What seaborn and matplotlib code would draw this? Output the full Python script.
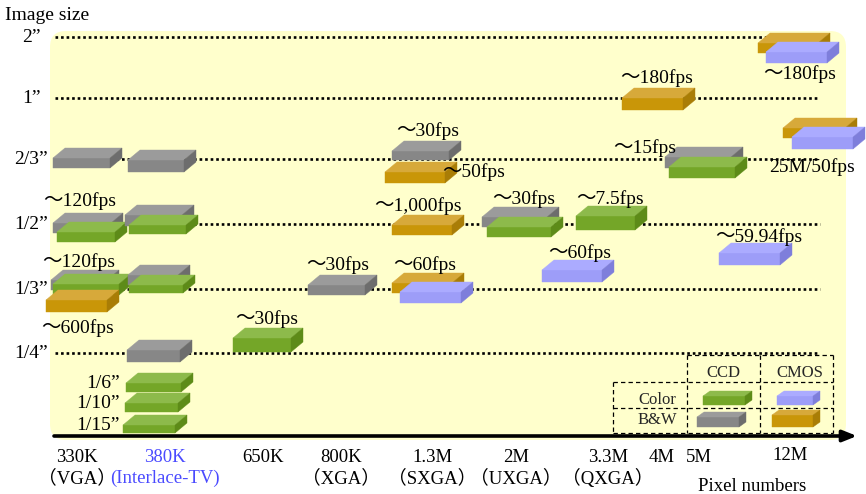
import matplotlib
matplotlib.use("Agg")
import matplotlib.pyplot as plt
from matplotlib.patches import Polygon, FancyBboxPatch
import seaborn as sns

# ---------------------------------------------------------------------------
# Data
# ---------------------------------------------------------------------------
# Pixel-count classes along the horizontal axis
resolutions = ["330K", "380K", "650K", "800K", "1.3M", "2M", "3.3M", "4M", "5M", "12M"]
formats = ["（VGA）", "(Interlace-TV)", "", "（XGA）", "（SXGA）", "（UXGA）", "（QXGA）", "", "", ""]

# Optical formats along the vertical axis
sizes = ["2”", "1”", "2/3”", "1/2”", "1/3”", "1/4”"]
small_sizes = ["1/6”", "1/10”", "1/15”"]

# Sensor line-up (drawn back to front): device, colour mode, frame-rate note
sensor_type = ["CCD", "CCD", "CCD", "CCD", "CCD", "CCD", "CCD", "CCD", "CMOS",
               "CCD", "CCD", "CCD", "CCD", "CCD", "CCD", "CCD", "CCD", "CCD",
               "CMOS", "CMOS", "CMOS", "CMOS", "CCD", "CCD", "CCD", "CMOS",
               "CMOS", "CCD", "CCD", "CMOS", "CMOS", "CMOS", "CMOS", "CMOS"]
sensor_mode = ["B&W", "B&W", "B&W", "Color", "B&W", "Color", "B&W", "Color", "B&W",
               "B&W", "Color", "B&W", "Color", "Color", "Color", "Color", "B&W", "B&W",
               "B&W", "B&W", "B&W", "Color", "B&W", "Color", "Color", "Color",
               "B&W", "B&W", "Color", "Color", "B&W", "Color", "B&W", "Color"]
sensor_fps = ["", "", "", "～120fps", "", "", "", "～120fps", "～600fps",
              "", "", "", "", "", "", "～30fps", "～30fps", "～30fps",
              "～50fps", "～1,000fps", "", "～60fps", "", "～30fps", "～7.5fps", "～60fps",
              "～180fps", "", "～15fps", "～59.94fps", "", "～180fps", "", "25M/50fps"]

# ---------------------------------------------------------------------------
# Layout (canvas units = pixels, y grows downward)
# ---------------------------------------------------------------------------
W, H = 866, 494
res_x = [77, 165, 263, 341, 432, 516, 608, 662, 699, 790]
size_y = [37, 98, 159, 224, 289, 353]
small_y = [383, 403, 425]
line_end = [800, 818, 818, 820, 820, 818]

# slab bounding boxes: left, top, width, height
block_box = [(53, 148, 69, 20), (128, 150, 68, 22), (53, 213, 70, 20), (57, 222, 70, 20),
             (125, 205, 69, 21), (129, 215, 69, 19), (51, 270, 68, 20), (53, 274, 78, 21),
             (46, 290, 73, 22), (128, 265, 62, 20), (129, 275, 66, 18), (127, 340, 65, 22),
             (126, 373, 67, 19), (125, 393, 65, 19), (123, 415, 64, 18), (233, 328, 70, 24),
             (308, 275, 69, 20), (392, 141, 69, 19), (385, 162, 72, 21), (392, 215, 72, 20),
             (392, 273, 72, 20), (400, 282, 73, 21), (482, 207, 77, 20), (487, 217, 76, 20),
             (576, 206, 71, 24), (542, 260, 72, 22), (622, 88, 73, 22), (665, 147, 78, 21),
             (669, 157, 78, 21), (719, 243, 73, 22), (758, 33, 72, 20), (766, 42, 73, 21),
             (783, 118, 74, 20), (792, 127, 73, 22)]
# text anchors (centre) of the frame-rate notes
label_xy = [None, None, None, (80, 201), None, None, None, (79, 262), (78, 328),
            None, None, None, None, None, None, (267, 319), (338, 265), (428, 131),
            (474, 172), (418, 206), None, (425, 265), None, (524, 199), (610, 199), (580, 253),
            (657, 78), None, (645, 148), (759, 237), None, (800, 74), None, (812, 167)]

# top, front, side shades per device / colour mode
shades = {
    ("CCD", "Color"): ("#8dba4b", "#74a628", "#5d8b18"),
    ("CCD", "B&W"): ("#9b9b9b", "#878787", "#6d6d6d"),
    ("CMOS", "Color"): ("#ababff", "#9d9df8", "#7e7edb"),
    ("CMOS", "B&W"): ("#d7a93a", "#c99608", "#a97d06"),
}

sns.set_theme(style="white")
plt.rcParams["font.family"] = ["Liberation Serif", "Noto Sans CJK JP", "DejaVu Sans"]

fig = plt.figure(figsize=(W / 100, H / 100), dpi=100)
ax = fig.add_axes([0, 0, 1, 1])
ax.set_xlim(0, W)
ax.set_ylim(H, 0)
ax.axis("off")
sns.despine(ax=ax, left=True, bottom=True)


def slab(left, top, width, height, colors, dx=12, dy=10, z=3):
    """Draw a flat 3-D slab whose outer bounding box is given."""
    right, bottom = left + width, top + height
    top_c, front_c, side_c = colors
    front = [(left, top + dy), (right - dx, top + dy), (right - dx, bottom), (left, bottom)]
    lid = [(left, top + dy), (right - dx, top + dy), (right, top), (left + dx, top)]
    side = [(right - dx, top + dy), (right, top), (right, bottom - dy), (right - dx, bottom)]
    for pts, c in ((front, front_c), (lid, top_c), (side, side_c)):
        ax.add_patch(Polygon(pts, closed=True, facecolor=c, edgecolor=c, lw=0.3, zorder=z))


# background panel
ax.add_patch(FancyBboxPatch((50, 31), 796, 409, boxstyle="round,pad=0,rounding_size=16",
                            facecolor="#ffffcc", edgecolor="none", zorder=0))

# dotted guides for each optical format
for y, x1 in zip(size_y, line_end):
    ax.plot([55, x1], [y, y], color="black", lw=1.9, linestyle=(0, (1, 1.1)),
            solid_capstyle="butt", zorder=1)

# size labels
for lab, y in zip(sizes, size_y):
    ax.text(31, y, lab, ha="center", va="center", fontsize=14, color="black")
for lab, y in zip(small_sizes, small_y):
    ax.text(120, y, lab, ha="right", va="center", fontsize=14, color="black")
ax.text(5, 15, "Image size", ha="left", va="center", fontsize=14, color="black")

# horizontal axis with arrow
ax.annotate("", xy=(857, 436), xytext=(54, 436),
            arrowprops=dict(arrowstyle="-|>,head_length=0.7,head_width=0.28",
                            lw=2.6, color="black", shrinkA=0, shrinkB=0), zorder=4)

# pixel-count labels
for i, (r, f) in enumerate(zip(resolutions, formats)):
    c = "#4a4aff" if r == "380K" else "black"
    ry = 455 if r == "12M" else 457
    ax.text(res_x[i], ry, r, ha="center", va="center", fontsize=13.5, color=c)
    if f:
        ax.text(res_x[i], 478, f, ha="center", va="center", fontsize=13.5, color=c)
ax.text(752, 486, "Pixel numbers", ha="center", va="center", fontsize=13.5, color="black")

# sensor slabs and frame-rate notes
for k in range(len(sensor_type)):
    slab(*block_box[k], shades[(sensor_type[k], sensor_mode[k])], z=3 + k * 0.01)
for k, txt in enumerate(sensor_fps):
    if txt:
        x, y = label_xy[k]
        ax.text(x, y, txt, ha="center", va="center", fontsize=14, color="black", zorder=6)

# legend grid (dashed)
dash = dict(color="black", lw=0.9, linestyle=(0, (3.5, 2.5)), zorder=5)
ax.plot([687, 833], [355, 355], **dash)
for y in (382, 408, 433):
    ax.plot([613, 833], [y, y], **dash)
ax.plot([613, 613], [382, 433], **dash)
for x in (687, 760, 833):
    ax.plot([x, x], [355, 433], **dash)
ax.text(723, 373, "CCD", ha="center", va="center", fontsize=12)
ax.text(800, 373, "CMOS", ha="center", va="center", fontsize=12)
ax.text(657, 400, "Color", ha="center", va="center", fontsize=12)
ax.text(657, 420, "B&W", ha="center", va="center", fontsize=12)
slab(703, 391, 49, 14, shades[("CCD", "Color")], dx=7, dy=5, z=6)
slab(777, 391, 43, 14, shades[("CMOS", "Color")], dx=7, dy=5, z=6)
slab(697, 412, 49, 15, shades[("CCD", "B&W")], dx=7, dy=5, z=6)
slab(772, 410, 48, 17, shades[("CMOS", "B&W")], dx=7, dy=5, z=6)

fig.savefig("out.png", dpi=100)
